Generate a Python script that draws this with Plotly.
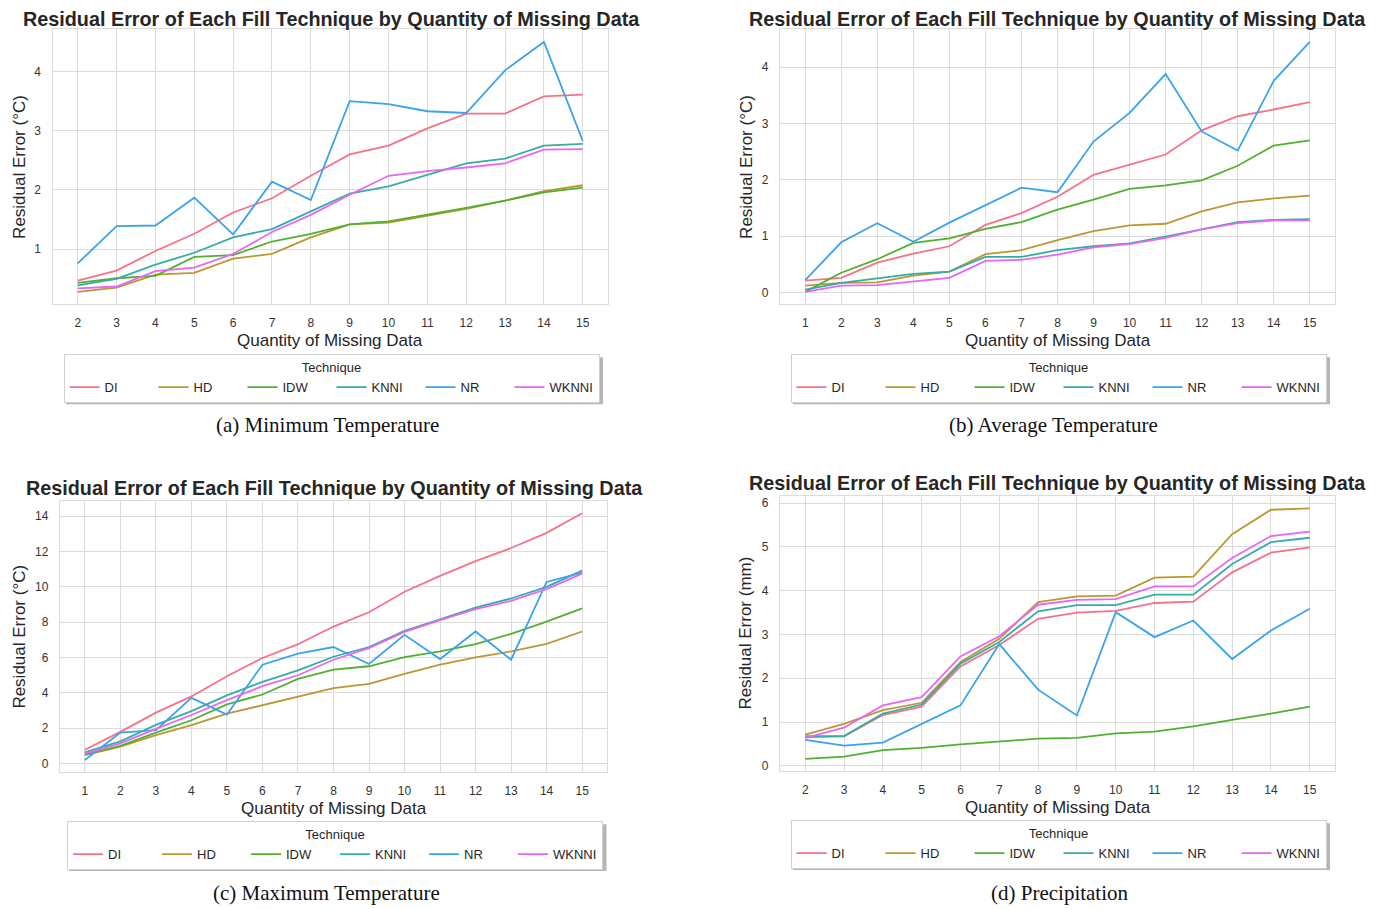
import plotly.graph_objects as go

W, H = 1380, 909
OFF = 8  # page body margin in the browser

techniques = ["DI", "HD", "IDW", "KNNI", "NR", "WKNNI"]
colors = ["#f77189", "#bb9832", "#50b131", "#36ada4", "#3ba3ec", "#e866f4"]

# (a) Minimum Temperature
x_min = list(range(2, 16))
min_DI = [0.47, 0.64, 0.97, 1.26, 1.62, 1.86, 2.24, 2.60, 2.75, 3.04, 3.29, 3.29, 3.58, 3.61]
min_HD = [0.28, 0.35, 0.57, 0.60, 0.84, 0.92, 1.20, 1.42, 1.45, 1.56, 1.68, 1.82, 1.98, 2.08]
min_IDW = [0.43, 0.51, 0.55, 0.87, 0.90, 1.13, 1.26, 1.42, 1.47, 1.58, 1.70, 1.82, 1.96, 2.04]
min_KNNI = [0.39, 0.50, 0.74, 0.94, 1.20, 1.34, 1.64, 1.94, 2.06, 2.26, 2.45, 2.53, 2.75, 2.78]
min_NR = [0.76, 1.39, 1.40, 1.87, 1.25, 2.14, 1.83, 3.50, 3.45, 3.33, 3.30, 4.02, 4.50, 2.83]
min_WKNNI = [0.34, 0.37, 0.63, 0.69, 0.92, 1.29, 1.58, 1.92, 2.24, 2.32, 2.38, 2.45, 2.68, 2.69]

# (b) Average Temperature
x_avg = list(range(1, 16))
avg_DI = [0.21, 0.26, 0.53, 0.69, 0.82, 1.20, 1.41, 1.70, 2.09, 2.27, 2.45, 2.88, 3.13, 3.25, 3.38]
avg_HD = [0.12, 0.17, 0.18, 0.30, 0.37, 0.68, 0.75, 0.93, 1.09, 1.19, 1.22, 1.44, 1.60, 1.67, 1.72]
avg_IDW = [0.01, 0.35, 0.59, 0.88, 0.96, 1.13, 1.25, 1.47, 1.65, 1.84, 1.90, 1.99, 2.25, 2.61, 2.70]
avg_KNNI = [0.05, 0.17, 0.25, 0.33, 0.37, 0.63, 0.63, 0.75, 0.82, 0.87, 0.99, 1.12, 1.25, 1.29, 1.30]
avg_NR = [0.22, 0.89, 1.23, 0.90, 1.24, 1.55, 1.86, 1.78, 2.68, 3.19, 3.88, 2.86, 2.52, 3.76, 4.45]
avg_WKNNI = [0.01, 0.12, 0.13, 0.19, 0.26, 0.56, 0.58, 0.67, 0.80, 0.86, 0.97, 1.12, 1.23, 1.28, 1.28]

# (c) Maximum Temperature
x_max = list(range(1, 16))
max_DI = [0.77, 1.78, 2.87, 3.79, 4.93, 5.97, 6.75, 7.75, 8.56, 9.72, 10.62, 11.46, 12.20, 13.06, 14.17]
max_HD = [0.47, 0.94, 1.60, 2.16, 2.81, 3.30, 3.77, 4.26, 4.50, 5.07, 5.59, 6.00, 6.34, 6.77, 7.47]
max_IDW = [0.49, 0.99, 1.74, 2.44, 3.34, 3.90, 4.78, 5.31, 5.50, 6.02, 6.34, 6.75, 7.34, 8.03, 8.78]
max_KNNI = [0.62, 1.24, 2.18, 2.96, 3.85, 4.62, 5.27, 6.04, 6.59, 7.50, 8.16, 8.82, 9.34, 10.00, 10.92]
max_NR = [0.19, 1.74, 1.88, 3.71, 2.76, 5.59, 6.21, 6.59, 5.63, 7.28, 5.91, 7.47, 5.87, 10.28, 10.80]
max_WKNNI = [0.53, 1.13, 1.95, 2.74, 3.58, 4.37, 4.99, 5.87, 6.53, 7.45, 8.12, 8.74, 9.21, 9.87, 10.75]

# (d) Precipitation
x_pre = list(range(2, 16))
pre_DI = [0.65, 0.67, 1.16, 1.35, 2.27, 2.76, 3.36, 3.50, 3.54, 3.72, 3.75, 4.42, 4.87, 4.99]
pre_HD = [0.71, 0.96, 1.27, 1.44, 2.37, 2.90, 3.74, 3.87, 3.89, 4.30, 4.32, 5.29, 5.85, 5.88]
pre_IDW = [0.16, 0.21, 0.36, 0.41, 0.49, 0.56, 0.62, 0.64, 0.74, 0.78, 0.90, 1.05, 1.19, 1.35]
pre_KNNI = [0.68, 0.68, 1.19, 1.40, 2.33, 2.83, 3.53, 3.67, 3.67, 3.91, 3.91, 4.61, 5.11, 5.21]
pre_NR = [0.59, 0.46, 0.53, 0.96, 1.38, 2.78, 1.74, 1.15, 3.51, 2.94, 3.32, 2.44, 3.09, 3.59]
pre_WKNNI = [0.64, 0.87, 1.38, 1.57, 2.50, 2.96, 3.68, 3.79, 3.81, 4.10, 4.10, 4.75, 5.25, 5.35]

title_text = "Residual Error of Each Fill Technique by Quantity of Missing Data"
xlabel = "Quantity of Missing Data"

SANS = "Liberation Sans, Arial, sans-serif"
SERIF = "Liberation Serif, Times New Roman, serif"
TXT = "#262626"
GRID = "#dcdcdc"


def px(x):
    return (x - OFF) / W


def py(y):
    return 1 - (y - OFF) / H


panels = [
    dict(x=x_min, ys=[min_DI, min_HD, min_IDW, min_KNNI, min_NR, min_WKNNI],
         box=(52.5, 29.5, 608, 305), xr=[1.35, 15.65], yr=[0.069, 4.711], dtick=1,
         ylab="Residual Error (°C)", caption="(a) Minimum Temperature",
         title_xy=(331, 19), ylab_x=20, xlab_y=341, leg_top=355, leg_cx=331.5, cap_xy=(327, 426)),
    dict(x=x_avg, ys=[avg_DI, avg_HD, avg_IDW, avg_KNNI, avg_NR, avg_WKNNI],
         box=(780, 29.5, 1335, 305), xr=[0.3, 15.7], yr=[-0.212, 4.672], dtick=1,
         ylab="Residual Error (°C)", caption="(b) Average Temperature",
         title_xy=(1057.5, 19), ylab_x=747, xlab_y=341, leg_top=355, leg_cx=1058.5, cap_xy=(1053, 426)),
    dict(x=x_max, ys=[max_DI, max_HD, max_IDW, max_KNNI, max_NR, max_WKNNI],
         box=(60, 502, 607, 774), xr=[0.3, 15.7], yr=[-0.51, 14.87], dtick=2,
         ylab="Residual Error (°C)", caption="(c) Maximum Temperature",
         title_xy=(334.5, 489), ylab_x=20, xlab_y=810, leg_top=823, leg_cx=335, cap_xy=(326, 895)),
    dict(x=x_pre, ys=[pre_DI, pre_HD, pre_IDW, pre_KNNI, pre_NR, pre_WKNNI],
         box=(780, 497, 1335, 773), xr=[1.35, 15.65], yr=[-0.126, 6.166], dtick=1,
         ylab="Residual Error (mm)", caption="(d) Precipitation",
         title_xy=(1057.5, 484), ylab_x=746, xlab_y=809, leg_top=822, leg_cx=1058.5, cap_xy=(1060, 895)),
]

fig = go.Figure()
layout = dict(
    width=W, height=H, margin=dict(l=0, r=0, t=0, b=0),
    paper_bgcolor="white", plot_bgcolor="white", showlegend=True,
    font=dict(family=SANS, color=TXT),
)
annotations = []
shapes = []

LEG_W, LEG_H = 537, 47

for i, p in enumerate(panels):
    n = "" if i == 0 else str(i + 1)
    leg = "legend" if i == 0 else f"legend{i + 1}"
    for t, c, yv in zip(techniques, colors, p["ys"]):
        fig.add_trace(go.Scatter(
            x=p["x"], y=yv, mode="lines", name=t,
            line=dict(color=c, width=1.8),
            xaxis="x" + n, yaxis="y" + n, legend=leg,
        ))
    x0, y0, x1, y1 = p["box"]
    layout["xaxis" + n] = dict(
        domain=[px(x0), px(x1)], range=p["xr"], anchor="y" + n,
        tickmode="array", tickvals=p["x"], ticktext=[str(v) for v in p["x"]],
        showgrid=True, gridcolor=GRID, gridwidth=1, zeroline=False,
        showline=True, linecolor=GRID, linewidth=1.3, mirror=True,
        ticks="outside", ticklen=7, tickcolor="rgba(0,0,0,0)",
        tickfont=dict(size=12, color="#333333", family=SANS),
    )
    layout["yaxis" + n] = dict(
        domain=[py(y1), py(y0)], range=p["yr"], anchor="x" + n,
        dtick=p["dtick"], tick0=0,
        showgrid=True, gridcolor=GRID, gridwidth=1, zeroline=False,
        showline=True, linecolor=GRID, linewidth=1.3, mirror=True,
        ticks="outside", ticklen=8, tickcolor="rgba(0,0,0,0)",
        tickfont=dict(size=12, color="#333333", family=SANS),
    )
    annotations.append(dict(
        text="<b>" + title_text + "</b>", x=px(p["title_xy"][0]), y=py(p["title_xy"][1]),
        xref="paper", yref="paper", showarrow=False, xanchor="center", yanchor="middle",
        font=dict(size=19.8, family=SANS, color=TXT),
    ))
    annotations.append(dict(
        text=p["ylab"], x=px(p["ylab_x"]), y=py((y0 + y1) / 2),
        xref="paper", yref="paper", showarrow=False, textangle=-90,
        xanchor="center", yanchor="middle",
        font=dict(size=17, family=SANS, color=TXT),
    ))
    annotations.append(dict(
        text=xlabel, x=px((x0 + x1) / 2), y=py(p["xlab_y"]),
        xref="paper", yref="paper", showarrow=False, xanchor="center", yanchor="middle",
        font=dict(size=17, family=SANS, color=TXT),
    ))
    annotations.append(dict(
        text=p["caption"], x=px(p["cap_xy"][0]), y=py(p["cap_xy"][1]),
        xref="paper", yref="paper", showarrow=False, xanchor="center", yanchor="middle",
        font=dict(size=21, family=SERIF, color="#111111"),
    ))
    layout[leg] = dict(
        orientation="h", x=px(p["leg_cx"]), y=py(p["leg_top"]), xanchor="center", yanchor="top",
        xref="paper", yref="paper",
        bgcolor="white", bordercolor="#cfcfcf", borderwidth=1,
        font=dict(size=13, family=SANS, color=TXT),
        title=dict(text="Technique", side="top center", font=dict(size=13, family=SANS, color=TXT)),
        entrywidth=44, entrywidthmode="pixels", tracegroupgap=0,
    )
    # soft shadow behind the legend box
    shapes.append(dict(
        type="rect", xref="paper", yref="paper",
        x0=px(p["leg_cx"] - LEG_W / 2 + 3), x1=px(p["leg_cx"] + LEG_W / 2 + 3),
        y0=py(p["leg_top"] + 3 + LEG_H), y1=py(p["leg_top"] + 3),
        fillcolor="#b5b5b5", line=dict(width=0), layer="above",
    ))

layout["annotations"] = annotations
layout["shapes"] = shapes
fig.update_layout(**layout)
fig.write_html("out.html")
